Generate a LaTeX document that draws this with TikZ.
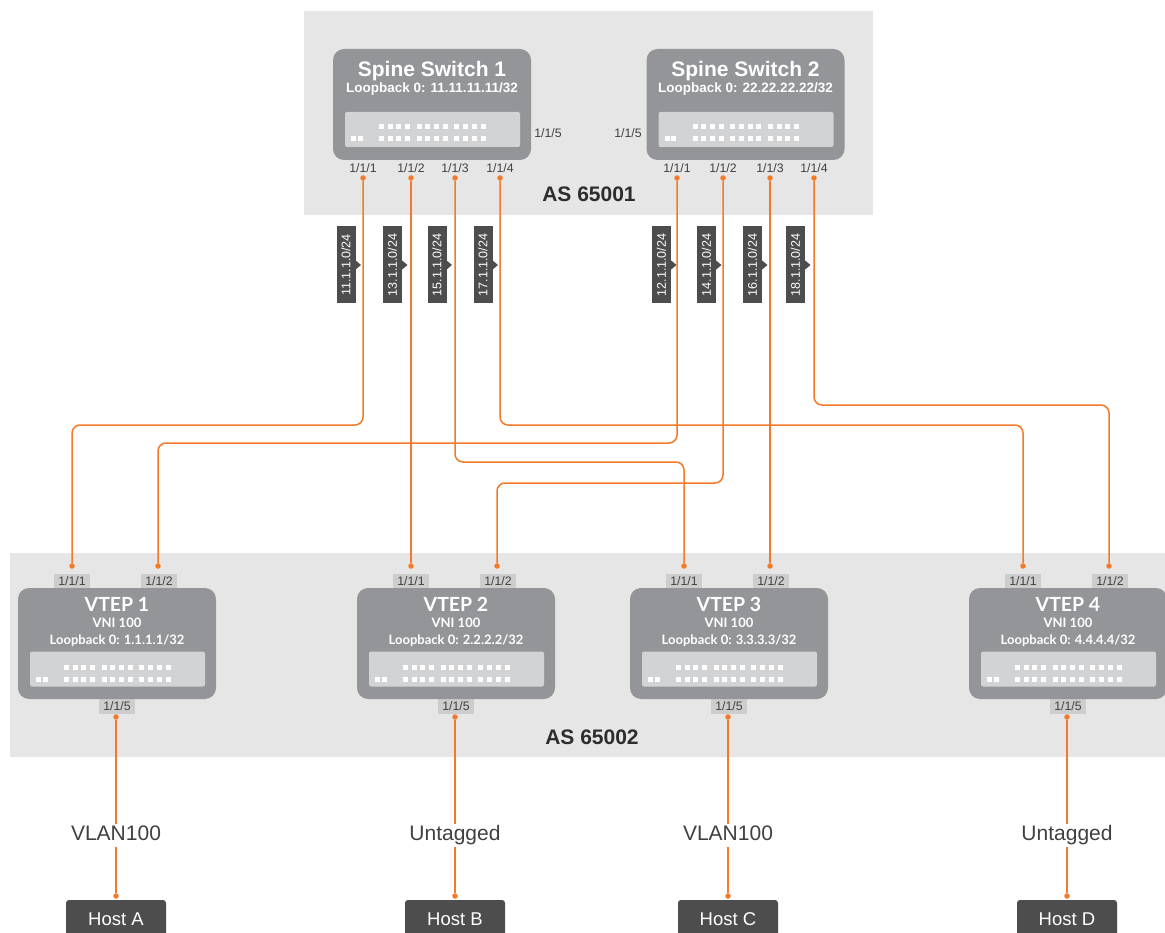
\documentclass[tikz,border=0pt]{standalone}
\usepackage{fontspec}
\setmainfont{Liberation Sans}
\newfontfamily\vtepfont{Lato}
\usetikzlibrary{calc}
\definecolor{regiongrey}{HTML}{E6E6E6}
\definecolor{boxgrey}{HTML}{939598}
\definecolor{panelgrey}{HTML}{D1D3D4}
\definecolor{taggrey}{HTML}{CDCDCE}
\definecolor{darkbox}{HTML}{4D4D4D}
\definecolor{inktext}{HTML}{404040}
\definecolor{linkorange}{HTML}{F47A2A}
\newcommand{\fs}[1]{\fontsize{#1}{#1}\selectfont}
\tikzset{
  swbox/.style={fill=boxgrey,draw=none,rounded corners=11pt,minimum width=198pt,minimum height=111pt,inner sep=0pt},
  panelbox/.style={fill=panelgrey,draw=none,rounded corners=2pt,minimum width=175pt,minimum height=35pt,inner sep=0pt},
  led/.style={fill=white,draw=none},
  swtitle/.style={text=white,font=\bfseries\fs{21},inner sep=0pt},
  swsub/.style={text=white,font=\bfseries\fs{13.5},inner sep=0pt},
  vtitle/.style={text=white,font=\vtepfont\bfseries\fs{19.5},inner sep=0pt},
  vsub/.style={text=white,font=\vtepfont\bfseries\fs{13},inner sep=0pt},
  portlab/.style={text=inktext,font=\fs{12.3},inner sep=0pt},
  porttag/.style={portlab,fill=taggrey,minimum width=36pt,minimum height=15pt},
  pdot/.style={circle,fill=linkorange,draw=none,inner sep=0pt,minimum size=5.5pt},
  link/.style={draw=linkorange,line width=1.5pt,rounded corners=8pt},
  netlab/.style={fill=darkbox,text=white,font=\fs{12.5},rotate=90,minimum width=77pt,minimum height=19pt,inner sep=0pt},
  astext/.style={text=inktext!70!black,font=\bfseries\fs{21},inner sep=0pt},
  vlantext/.style={fill=white,text=inktext,font=\fs{21},inner xsep=1pt,inner ysep=2pt,text height=15pt,text depth=4pt},
  hostbox/.style={fill=darkbox,text=white,font=\fs{18.5},rounded corners=3pt,minimum width=100pt,minimum height=38pt,inner sep=0pt},
}
% LED strip, local coordinates: origin = panel left, y = top-row centre
\newcommand{\leds}{%
  \foreach \g in {0,1,2}{\foreach \k in {0,1,2,3}{
    \fill[led] ({34+\g*37.7+\k*8.7},-2.5) rectangle +(5,5);
    \fill[led] ({34+\g*37.7+\k*8.7},-13.8) rectangle +(5,5);
  }}
  \fill[led] (6,-13.8) rectangle +(5,5);
  \fill[led] (12.5,-13.8) rectangle +(5,5);
}
\newcommand{\vtepsw}[4]{% name, left x, number, loopback
  \begin{scope}[xshift=#2pt]
    \node[porttag] (#1t1) at (54,-581) {1/1/1};
    \node[porttag] (#1t2) at (141,-581) {1/1/2};
    \node[porttag] (#1t5) at (99,-706.5) {1/1/5};
    \node[swbox] (#1) at (99,-643.5) {};
    \node[panelbox] (#1panel) at (99.5,-669) {};
    \begin{scope}[shift={(12,-667.7)}]\leds\end{scope}
    \node[vtitle] (#1title) at (99,-604) {VTEP #3};
    \node[vsub] (#1vni) at (99,-622.5) {VNI 100};
    \node[vsub] (#1loop) at (99,-640.5) {Loopback 0: #4};
    \node[pdot] (#1p1) at (54,-566) {};
    \node[pdot] (#1p2) at (140,-566) {};
    \node[pdot] (#1p5) at (98,-717) {};
  \end{scope}
}
\newcommand{\spinesw}[3]{% name, left x, number
  \begin{scope}[xshift=#2pt]
    \node[swbox] (#1) at (99,-104.5) {};
    \node[panelbox] (#1panel) at (99.5,-129.5) {};
    \begin{scope}[shift={(12,-127)}]\leds\end{scope}
    \node[swtitle] (#1title) at (99,-71) {Spine Switch #3};
  \end{scope}
}
\newcommand{\netlabel}[3]{% name, centre x, text
  \fill[darkbox] (#2+9,-260) -- (#2+15,-265) -- (#2+9,-270) -- cycle;
  \node[netlab] (#1) at (#2,-265) {#3};
}
\newcommand{\hostgroup}[4]{% name, vtep dot, centre x, text
  \node[hostbox] (#1) at (#3,-919) {Host #4};
  \node[pdot] (#1dot) at (#3,-896) {};
  \draw[link] (#2) -- (#1dot);
}
\begin{document}
\begin{tikzpicture}[x=1pt,y=1pt]
\clip (0,0) rectangle (1165,-933);
\fill[white] (0,0) rectangle (1165,-933);
% regions
\fill[regiongrey] (304,-11) rectangle (873,-215);
\fill[regiongrey] (10,-553) rectangle (1165,-757);
\node[astext] (as1) at (589,-194) {AS 65001};
\node[astext] (as2) at (592,-737) {AS 65002};
% spines
\spinesw{sa}{333}{1}
\spinesw{sb}{646.5}{2}
\node[swsub] (saloop) at (432,-89) {Loopback 0: 11.11.11.11/32};
\node[swsub] (sbloop) at (745.5,-89) {Loopback 0: 22.22.22.22/32};
\node[portlab] (sap5) at (548,-133) {1/1/5};
\node[portlab] (sbp5) at (628,-133) {1/1/5};
\foreach \n/\x/\t in {sap1/363/1,sap2/411/2,sap3/455/3,sap4/500/4,sbp1/677/1,sbp2/723/2,sbp3/770/3,sbp4/814/4}{
  \node[portlab] (\n lab) at (\x,-168) {1/1/\t};
  \node[pdot] (\n) at (\x,-178) {};
}
% vteps
\vtepsw{va}{18}{1}{1.1.1.1/32}
\vtepsw{vb}{357}{2}{2.2.2.2/32}
\vtepsw{vc}{630}{3}{3.3.3.3/32}
\vtepsw{vd}{969}{4}{4.4.4.4/32}
% fabric links
\draw[link] (sap1) -- (sap1 |- 0,-425) -- (vap1 |- 0,-425) -- (vap1);
\draw[link] (sap2) -- (vbp1);
\draw[link] (sap3) -- (sap3 |- 0,-462) -- (vcp1 |- 0,-462) -- (vcp1);
\draw[link] (sap4) -- (sap4 |- 0,-425) -- (vdp1 |- 0,-425) -- (vdp1);
\draw[link] (sbp1) -- (sbp1 |- 0,-443) -- (vap2 |- 0,-443) -- (vap2);
\draw[link] (sbp2) -- (sbp2 |- 0,-483) -- (vbp2 |- 0,-483) -- (vbp2);
\draw[link] (sbp3) -- (vcp2);
\draw[link] (sbp4) -- (sbp4 |- 0,-405) -- (vdp2 |- 0,-405) -- (vdp2);
% subnet labels
\netlabel{na}{346}{11.1.1.0/24}
\netlabel{nb}{392.5}{13.1.1.0/24}
\netlabel{nc}{437}{15.1.1.0/24}
\netlabel{nd}{483}{17.1.1.0/24}
\netlabel{ne}{661.5}{12.1.1.0/24}
\netlabel{nf}{706.5}{14.1.1.0/24}
\netlabel{ng}{752.5}{16.1.1.0/24}
\netlabel{nh}{795.5}{18.1.1.0/24}
% hosts
\hostgroup{ha}{vap5}{116}{A}
\hostgroup{hb}{vbp5}{455}{B}
\hostgroup{hc}{vcp5}{728}{C}
\hostgroup{hd}{vdp5}{1067}{D}
\node[vlantext] (la) at (116,-835) {VLAN100};
\node[vlantext] (lb) at (455,-835) {Untagged};
\node[vlantext] (lc) at (728,-835) {VLAN100};
\node[vlantext] (ld) at (1067,-835) {Untagged};
\end{tikzpicture}
\end{document}
